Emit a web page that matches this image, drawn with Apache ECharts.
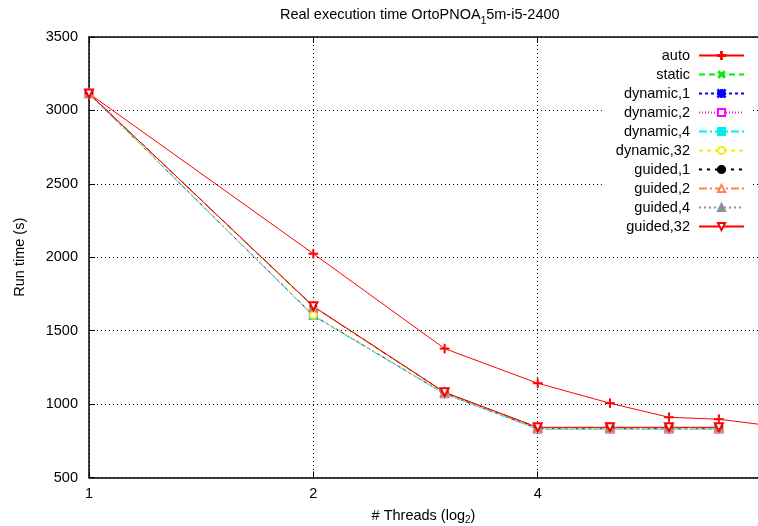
<!DOCTYPE html>
<html><head><meta charset="utf-8">
<script src="https://cdn.jsdelivr.net/npm/echarts@6/dist/echarts.min.js"></script>
<style>html,body{margin:0;padding:0;background:#fff}#c{width:758px;height:526px}</style>
</head><body><div id="c"></div>
<script>
// ---- data ----
const threads   = [1, 2, 3, 4, 5, 6, 7, 8];
const autoT     = [3115, 2024, 1378, 1142, 1006, 910, 897, 860];
const staticT   = [3115, 1662, 1078, 838, 838, 838, 838];
const dyn1T     = [3115, 1604, 1070, 832, 832, 832, 832];
const dyn2T     = [3115, 1603, 1070, 830, 830, 830, 830];
const dyn4T     = [3115, 1600, 1068, 828, 830, 830, 830];
const dyn32T    = [3115, 1606, 1072, 833, 833, 833, 833];
const guid1T    = [3115, 1664, 1079, 840, 840, 840, 840];
const guid2T    = [3115, 1665, 1080, 841, 841, 841, 841];
const guid4T    = [3115, 1663, 1079, 840, 840, 840, 840];
const guid32T   = [3115, 1666, 1081, 842, 842, 842, 842];
const seriesNames = ['auto','static','dynamic,1','dynamic,2','dynamic,4','dynamic,32','guided,1','guided,2','guided,4','guided,32'];
const seriesData  = [autoT, staticT, dyn1T, dyn2T, dyn4T, dyn32T, guid1T, guid2T, guid4T, guid32T];
const xTicks = [1, 2, 4];

// ---- styles ----
const PLUS = 'path://M4,0H5V4H9V5H5V9H4V5H0V4H4Z';
const STAR = 'path://M4,0H5V4H9V5H5V9H4V5H0V4H4Z M0.7,0L4.5,3.8L8.3,0L9,0.7L5.2,4.5L9,8.3L8.3,9L4.5,5.2L0.7,9L0,8.3L3.8,4.5L0,0.7Z';
const styles = [
  {color:'#ff0000', dash:'solid',      symbol:PLUS,           size:9,  rot:0},
  {color:'#00ee00', dash:[6,4],        symbol:PLUS,           size:9,  rot:45},
  {color:'#0000ff', dash:[3,3],        symbol:STAR,           size:8,  rot:0},
  {color:'#ff00ff', dash:[1,2],        symbol:'emptyRect',    size:7,  rot:0},
  {color:'#00eeee', dash:[8,3,2,3],    symbol:'rect',         size:7,  rot:0},
  {color:'#eeee00', dash:[4,4],        symbol:'emptyCircle',  size:7,  rot:0},
  {color:'#000000', dash:[3,5],        symbol:'circle',       size:7,  rot:0},
  {color:'#ff7f50', dash:[8,3,2,3],    symbol:'emptyTriangle',size:8,  rot:0},
  {color:'#909090', dash:[2,3],        symbol:'triangle',     size:7,  rot:0},
  {color:'#ff0000', dash:'solid',      symbol:'emptyTriangle',size:8,  rot:180}
];

const FONT = '"Liberation Sans", Arial, Helvetica, sans-serif';
const FS = 14.5;

const series = seriesNames.map((n, i) => ({
  name: n,
  type: 'line',
  data: seriesData[i].map((v, j) => [threads[j], v]),
  showAllSymbol: true,
  symbol: styles[i].symbol,
  symbolSize: styles[i].size,
  symbolRotate: styles[i].rot,
  lineStyle: {color: styles[i].color, width: 1, type: styles[i].dash},
  itemStyle: {color: styles[i].color, borderColor: styles[i].color, borderWidth: 1},
  emphasis: {disabled: true},
  animation: false,
  clip: true
}));

const chart = echarts.init(document.getElementById('c'), null, {renderer: 'canvas'});
const xBase = {
  type: 'log', logBase: 2, min: 1, max: 7.9, interval: 1,
  axisLine: {show: true, onZero: false, lineStyle: {color: '#000', width: 1.5}},
  axisTick: {show: true, inside: true, length: 6, lineStyle: {color: '#000'}},
  minorTick: {show: false},
  splitLine: {show: false}
};
chart.setOption({
  animation: false,
  backgroundColor: '#fff',
  textStyle: {fontFamily: FONT},
  title: {
    text: '{n|Real execution time OrtoPNOA}{s|1}{n|5m-i5-2400}',
    left: 275, top: -1,
    textStyle: {
      fontFamily: FONT, fontWeight: 'normal', color: '#000',
      rich: {
        n: {fontFamily: FONT, fontSize: FS, color: '#000', lineHeight: 22, verticalAlign: 'middle'},
        s: {fontFamily: FONT, fontSize: 10, color: '#000', lineHeight: 22, verticalAlign: 'bottom', padding: [10, 0, 0, 0]}
      }
    }
  },
  grid: {left: 89, right: 0, top: 37, bottom: 48.5, containLabel: false, outerBoundsMode: 'none'},
  legend: {
    data: seriesNames,
    orient: 'vertical',
    align: 'right',
    right: 5, top: 46,
    itemWidth: 45, itemHeight: 9, itemGap: 4,
    padding: [2, 8, 2, 14],
    backgroundColor: '#fff',
    textStyle: {fontFamily: FONT, fontSize: FS, color: '#000', padding: [0, 4, 0, 0]},
    selectedMode: false
  },
  xAxis: [
    Object.assign({}, xBase, {
      position: 'bottom',
      name: '{n|# Threads (log}{s|2}{n|)}',
      nameLocation: 'middle', nameGap: 28,
      nameTextStyle: {
        rich: {
          n: {fontFamily: FONT, fontSize: FS, color: '#000', lineHeight: 20, verticalAlign: 'middle'},
          s: {fontFamily: FONT, fontSize: 10, color: '#000', lineHeight: 20, verticalAlign: 'bottom', padding: [9, 0, 0, 0]}
        }
      },
      axisLabel: {
        show: true, margin: 9, color: '#000', fontFamily: FONT, fontSize: FS,
        showMaxLabel: false,
        formatter: v => { const r = Math.round(v); return xTicks.includes(r) ? String(r) : ''; }
      },
      splitLine: {show: true, lineStyle: {color: '#000', width: 1, type: [1, 3]}}
    }),
    Object.assign({}, xBase, {
      position: 'top',
      axisLabel: {show: false}
    })
  ],
  yAxis: {
    type: 'value', min: 500, max: 3500, interval: 500,
    name: 'Run time (s)', nameLocation: 'middle', nameGap: 62,
    nameTextStyle: {fontFamily: FONT, fontSize: FS, color: '#000'},
    axisLine: {show: true, lineStyle: {color: '#000', width: 1.5}},
    axisTick: {show: true, inside: true, length: 6, lineStyle: {color: '#000'}},
    axisLabel: {margin: 11, color: '#000', fontFamily: FONT, fontSize: FS, formatter: v => String(v)},
    splitLine: {show: true, lineStyle: {color: '#000', width: 1, type: [1, 3]}}
  },
  series: series
});
</script>
</body></html>
